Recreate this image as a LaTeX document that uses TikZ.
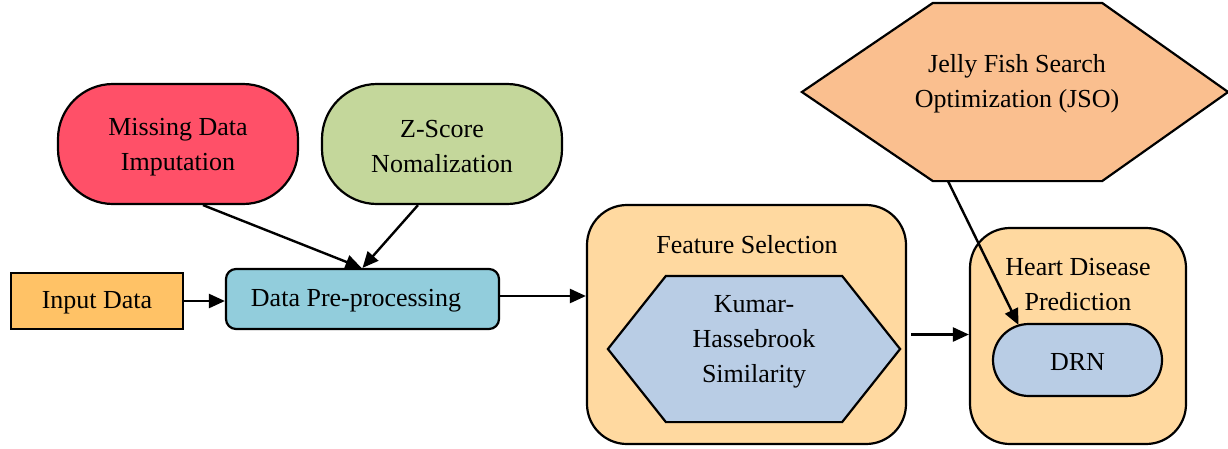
\documentclass[tikz,border=0pt]{standalone}
\usepackage{fontspec}
\setmainfont{Liberation Serif}
\usetikzlibrary{arrows.meta}
\definecolor{cmiss}{HTML}{FF5068}
\definecolor{czs}{HTML}{C4D79B}
\definecolor{cinput}{HTML}{FFC266}
\definecolor{cdp}{HTML}{92CDDC}
\definecolor{couter}{HTML}{FFD9A0}
\definecolor{cblue}{HTML}{B9CDE5}
\definecolor{cjso}{HTML}{FABF8F}
\begin{document}
\begin{tikzpicture}[x=1pt,y=-1pt, line width=2.2pt,
  font=\fontsize{26}{35}\selectfont,
  box/.style={draw, align=center, inner sep=0pt, line width=2.2pt},
  txt/.style={align=center, inner sep=0pt},
  conn/.style={-{Triangle[length=16pt,width=14pt]}, line width=2.4pt}]
\useasboundingbox (0,0) rectangle (1228,448);

% outer containers
\node[box, fill=couter, rounded corners=40pt, minimum width=319pt, minimum height=239pt] (fsbox) at (746.5,324.5) {};
\node[box, fill=couter, rounded corners=40pt, minimum width=216pt, minimum height=216pt] (hdbox) at (1078,336) {};

% top ovals
\node[box, fill=cmiss, rounded corners=55pt, minimum width=240pt, minimum height=120pt] (miss) at (178,144) {};
\node[txt] (misst) at (178,147) {Missing Data\\Imputation};
\node[box, fill=czs, rounded corners=55pt, minimum width=240pt, minimum height=120pt] (zs) at (442,144) {};
\node[txt] (zst) at (442,147) {Z-Score\\Nomalization};

% input and preprocessing
\node[box, fill=cinput, minimum width=172pt, minimum height=56pt] (inp) at (97,301) {};
\node[txt] (inpt) at (97,303) {Input Data};
\node[box, fill=cdp, rounded corners=10pt, minimum width=273pt, minimum height=60pt] (dp) at (362.5,299) {};
\node[txt] (dpt) at (356,301) {Data Pre-processing};

% feature selection
\node[txt] (fstitle) at (747,245) {Feature Selection};
\node[inner sep=0pt, minimum width=290pt, minimum height=144pt] (khs) at (754,349) {};
\draw[fill=cblue] (khs.west) -- ([xshift=58pt]khs.north west) -- ([xshift=-58pt]khs.north east) -- (khs.east) -- ([xshift=-58pt]khs.south east) -- ([xshift=58pt]khs.south west) -- cycle;
\node[txt] (kumar) at (754,342) {Kumar-\\Hassebrook\\Similarity};

% heart disease prediction
\node[txt] (hdtitle) at (1078,285) {Heart Disease\\Prediction};
\node[box, fill=cblue, rounded corners=36pt, minimum width=169pt, minimum height=72pt] (drn) at (1077.5,360) {};
\node[txt] (drnt) at (1077.5,362) {DRN};

% JSO hexagon
\node[inner sep=0pt, minimum width=424pt, minimum height=176pt] (jsoshape) at (1015,92) {};
\draw[fill=cjso] (jsoshape.west) -- ([xshift=131pt]jsoshape.north west) -- ([xshift=-126pt]jsoshape.north east) -- (jsoshape.east) -- ([xshift=-126pt]jsoshape.south east) -- ([xshift=131pt]jsoshape.south west) -- cycle;
\node[txt] (jso) at (1017,84) {Jelly Fish Search\\Optimization (JSO)};

% connectors
\coordinate (missout) at ([xshift=25pt]miss.south);
\coordinate (dpin) at ([xshift=-1pt]dp.north);
\draw[conn] (missout) -- (dpin);
\coordinate (zsout) at ([xshift=-24pt]zs.south);
\coordinate (dpin2) at ([xshift=0pt]dp.north);
\draw[conn] (zsout) -- (dpin2);
\draw[conn] (inp.east) -- (inp.east -| dp.west);
\coordinate (dpout) at ([yshift=3pt]dp.east);
\draw[conn] (dpout) -- (dpout -| fsbox.west);
\coordinate (fsout) at ([xshift=4pt,yshift=-10pt]fsbox.east);
\draw[conn] (fsout) -- (fsout -| hdbox.west);
\coordinate (jsoout) at ([xshift=-67pt]jsoshape.south);
\coordinate (drnin) at ([xshift=-59pt,yshift=-2pt]drn.north);
\draw[conn] (jsoout) -- (drnin);
\end{tikzpicture}
\end{document}
